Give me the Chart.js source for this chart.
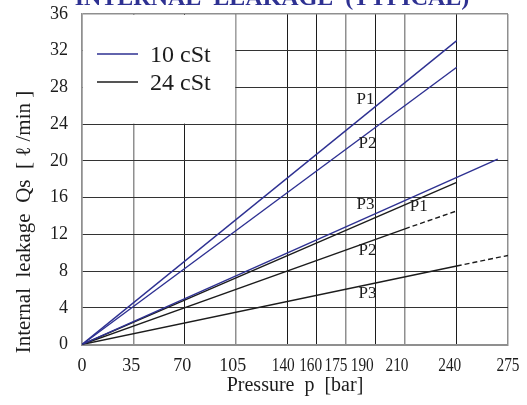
<!DOCTYPE html>
<html lang="en">
<head>
    <meta charset="UTF-8">
    <title>Internal Leakage (Typical)</title>
    <script src="https://cdn.jsdelivr.net/npm/chart.js"></script>
    <style>
        body { margin: 0; padding: 0; background: #fff; }
        #wrap { width: 527px; height: 405px; }
    </style>
</head>
<body>

<div id="wrap"><canvas id="chart" width="527" height="405"></canvas></div>

<script>
    // Pressure ticks. The original sheet spaces these by hand, so each value sits on its own slot of the axis
    const tickValues = [0, 35, 70, 105, 140, 160, 175, 190, 210, 240, 275];
    const tickSlots = [0, 33.1, 66, 99.2, 132.5, 151.5, 170.4, 189.3, 208.5, 241.9, 275];
    const leakTicks = [0, 4, 8, 12, 16, 20, 24, 28, 32, 36];

    // Curves as [pressure bar, leakage l/min]
    const cst10P1 = [[0, 0], [240, 33.1]];
    const cst10P2 = [[0, 0], [240, 30.2]];
    const cst10P3 = [[0, 0], [268, 20.2]];
    const cst24P1 = [[0, 0], [240, 17.65]];
    const cst24P2 = [[0, 0], [210, 12.6], [240, 14.55]];   // dashed past 210
    const cst24P3 = [[0, 0], [240, 8.55], [275, 9.7]];     // dashed past 240

    // Curve tags [text, pressure, leakage]
    const curveTags = [
        ['P1', 185, 26.7], ['P2', 186, 21.9], ['P3', 185, 15.2],
        ['P1', 218, 15.0], ['P2', 186, 10.2], ['P3', 186, 5.6]
    ];

    const legendNames = ['10 cSt', '24 cSt'];

    // styling
    const BLUE = '#2e3192';
    const INK = '#1c1c1c';
    const GREY = '#8f8f8f';
    const SERIF = '"Liberation Serif", "Times New Roman", serif';
    const greyX = [true, true, false, true, false, false, true, false, true, false, true];
    const labelShift = [0, -2, -2, -3, -4, -6, -10, -13, -8, -7, 0];

    Chart.defaults.font.family = SERIF;
    Chart.defaults.color = INK;

    // map a pressure value onto its slot on the axis
    function slot(p) {
        for (let i = 1; i < tickValues.length; i++) {
            if (p <= tickValues[i]) {
                const t = (p - tickValues[i - 1]) / (tickValues[i] - tickValues[i - 1]);
                return tickSlots[i - 1] + t * (tickSlots[i] - tickSlots[i - 1]);
            }
        }
        return tickSlots[tickSlots.length - 1];
    }

    function toPoints(series) {
        return series.map(pt => ({ x: slot(pt[0]), y: pt[1] }));
    }

    function curve(series, color, dashFrom) {
        return {
            data: toPoints(series),
            borderColor: color,
            borderWidth: 1.4,
            pointRadius: 0,
            tension: 0,
            segment: {
                borderDash: ctx => (dashFrom !== undefined && ctx.p0DataIndex >= dashFrom) ? [5, 3] : undefined
            }
        };
    }

    const sheet = {
        id: 'sheet',
        beforeDatasetsDraw(chart) {
            // white legend panel over the top left grid cells
            const ctx = chart.ctx, a = chart.chartArea;
            const xs = chart.scales.x, ys = chart.scales.y;
            const right = xs.getPixelForValue(slot(105));
            const bottom = ys.getPixelForValue(24);
            ctx.save();
            ctx.fillStyle = '#fff';
            ctx.fillRect(a.left + 1, a.top + 1, right - a.left - 1.5, bottom - a.top - 1.5);
            ctx.restore();
        },
        afterDatasetsDraw(chart) {
            const ctx = chart.ctx, a = chart.chartArea;
            const xs = chart.scales.x, ys = chart.scales.y;
            ctx.save();

            // legend
            const colors = [BLUE, INK];
            legendNames.forEach((name, i) => {
                const y = a.top + 40 + i * 28;
                ctx.strokeStyle = colors[i];
                ctx.lineWidth = 1.4;
                ctx.beginPath();
                ctx.moveTo(a.left + 15, y);
                ctx.lineTo(a.left + 56, y);
                ctx.stroke();
                ctx.fillStyle = INK;
                ctx.font = '24px ' + SERIF;
                ctx.textAlign = 'left';
                ctx.textBaseline = 'middle';
                ctx.fillText(name, a.left + 68, y + 2);
            });

            // curve tags
            ctx.font = '17px ' + SERIF;
            ctx.textAlign = 'center';
            ctx.textBaseline = 'middle';
            curveTags.forEach(t => {
                ctx.fillText(t[0], xs.getPixelForValue(slot(t[1])), ys.getPixelForValue(t[2]));
            });

            // pressure tick labels
            ctx.font = '18px ' + SERIF;
            tickValues.forEach((v, i) => {
                const x = xs.getPixelForValue(tickSlots[i]) + labelShift[i];
                if (i >= 4) ctx.fillText(String(v), x, a.bottom + 22, 23);
                else ctx.fillText(String(v), x, a.bottom + 22);
            });

            // y axis title
            ctx.save();
            ctx.translate(24, 222);
            ctx.rotate(-Math.PI / 2);
            ctx.font = '21px ' + SERIF;
            ctx.fillText('Internal  leakage  Qs  [ ℓ /min ]', 0, 0);
            ctx.restore();

            // heading, cut off by the top edge as in the scan
            ctx.fillStyle = BLUE;
            ctx.font = 'bold 24px ' + SERIF;
            ctx.textBaseline = 'alphabetic';
            ctx.fillText('INTERNAL  LEAKAGE  (TYPICAL)', 272, 5);

            ctx.restore();
        }
    };

    new Chart(document.getElementById('chart'), {
        type: 'line',
        data: {
            datasets: [
                curve(cst10P1, BLUE),
                curve(cst10P2, BLUE),
                curve(cst10P3, BLUE),
                curve(cst24P1, INK),
                curve(cst24P2, INK, 1),
                curve(cst24P3, INK, 1)
            ]
        },
        options: {
            responsive: false,
            animation: false,
            layout: { padding: { top: 14, right: 19, bottom: 0, left: 0 } },
            plugins: { legend: { display: false }, tooltip: { enabled: false } },
            scales: {
                x: {
                    type: 'linear',
                    min: 0,
                    max: 275,
                    afterBuildTicks: scale => { scale.ticks = tickSlots.map(v => ({ value: v })); },
                    afterFit: scale => { scale.height = 60.5; },
                    ticks: { display: false },
                    grid: {
                        drawTicks: false,
                        color: c => greyX[c.index] ? GREY : INK,
                        lineWidth: c => greyX[c.index] ? 1.5 : 1
                    },
                    border: { color: GREY, width: 2 },
                    title: {
                        display: true,
                        text: 'Pressure  p  [bar]',
                        font: { size: 20 },
                        color: INK,
                        padding: { top: 0, bottom: 7 }
                    }
                },
                y: {
                    min: 0,
                    max: 36,
                    afterBuildTicks: scale => { scale.ticks = leakTicks.map(v => ({ value: v })); },
                    afterFit: scale => {
                        scale.width = 82;
                        // labels may overhang the plot; keep the plot edges where the sheet has them
                        scale.paddingTop = 0;
                        scale.paddingBottom = 0;
                    },
                    ticks: { font: { size: 18 }, color: INK, padding: 14 },
                    grid: {
                        drawTicks: false,
                        color: c => (c.tick.value === 0 || c.tick.value === 36) ? GREY : '#333',
                        lineWidth: c => (c.tick.value === 0 || c.tick.value === 36) ? 1.5 : 1
                    },
                    border: { color: GREY, width: 1.5 }
                }
            }
        },
        plugins: [sheet]
    });
</script>

</body>
</html>
